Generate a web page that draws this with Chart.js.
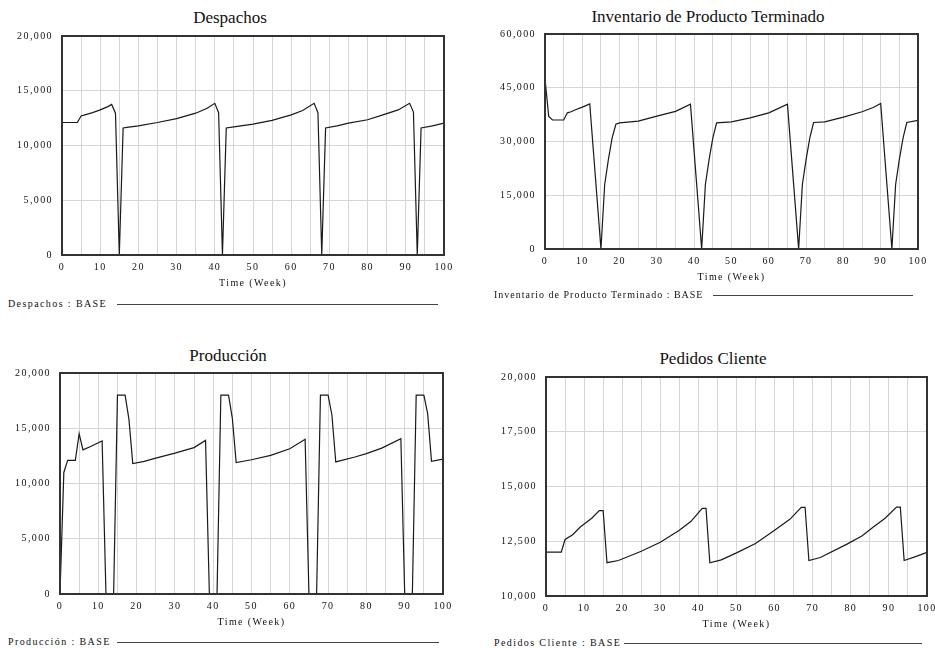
<!DOCTYPE html>
<html>
<head>
<meta charset="utf-8">
<title>Modelo BASE</title>
<script src="https://cdn.jsdelivr.net/npm/chart.js@4.4.0/dist/chart.umd.min.js"></script>
<style>
  html, body { margin: 0; padding: 0; background: #fff; overflow: hidden; width: 935px; height: 648px; }
  .plot { position: absolute; }
  .title { position: absolute; width: 320px; font-family: 'Liberation Serif', 'Times New Roman', serif; font-size: 17px; line-height: 20px; text-align: center; color: #111; white-space: nowrap; }
  .legend { position: absolute; font-family: 'Liberation Serif', 'Times New Roman', serif; font-size: 10px; line-height: 12px; letter-spacing: 1.4px; color: #111; white-space: nowrap; }
  .legend-line { position: absolute; height: 1px; background: #444; }
</style>
</head>
<body>

<div class="title" style="left:70px; top:8px;">Despachos</div>
<div class="title" style="left:548px; top:7px;">Inventario de Producto Terminado</div>
<div class="title" style="left:68px; top:346px;">Producción</div>
<div class="title" style="left:553px; top:349px;">Pedidos Cliente</div>

<div class="plot" style="left:2px; top:26px; width:462px; height:266px;"><canvas id="despachos"></canvas></div>
<div class="plot" style="left:485px; top:24px; width:453px; height:262px;"><canvas id="inventario"></canvas></div>
<div class="plot" style="left:0px; top:363px; width:463px; height:268px;"><canvas id="produccion"></canvas></div>
<div class="plot" style="left:486px; top:367px; width:461px; height:266px;"><canvas id="pedidos"></canvas></div>

<div class="legend" style="left:8px; top:298px;">Despachos : BASE</div>
<div class="legend-line" style="left:117px; top:304px; width:321px;"></div>
<div class="legend" style="left:494px; top:289px; letter-spacing:1px;">Inventario de Producto Terminado : BASE</div>
<div class="legend-line" style="left:713px; top:295px; width:200px;"></div>
<div class="legend" style="left:8px; top:636px;">Producción : BASE</div>
<div class="legend-line" style="left:117px; top:642px; width:322px;"></div>
<div class="legend" style="left:494px; top:637px;">Pedidos Cliente : BASE</div>
<div class="legend-line" style="left:624px; top:643px; width:298px;"></div>

<script>
// Despachos
const despachosT = [0,4,5,6,8,10,12,13,14,15,16,17,20,25,30,35,38,40,41,42,43,45,50,55,60,63,66,67,68,69,72,75,80,84,88,91,92,93,94,97,100];
const despachosV = [12100,12100,12700,12800,13000,13250,13550,13750,12950,0,11600,11650,11800,12100,12450,12950,13400,13850,13000,0,11600,11700,11950,12300,12800,13200,13850,13000,0,11600,11800,12050,12350,12800,13250,13850,13050,0,11600,11800,12050];

// Inventario de Producto Terminado
const inventarioT = [0,1,2,5,6,7,8,10,12,13,14,15,16,17,18,19,20,25,30,35,39,40,41,42,43,44,45,46,50,55,60,65,66,67,68,69,70,71,72,75,80,85,88,90,91,92,93,94,95,96,97,100];
const inventarioV = [47500,37000,36000,36000,38000,38300,38800,39600,40500,27000,13500,0,18000,25000,31000,34800,35200,35700,37100,38400,40400,26900,13500,0,18000,25000,31000,35200,35500,36600,38000,40400,26900,13500,0,18000,25000,31000,35300,35500,36800,38300,39500,40600,27000,13500,0,18000,25000,31000,35300,35900];

// Producción
const produccionT = [0,1,2,4,5,6,8,11,12,14,15,17,18,19,22,25,30,35,38,39,41,42,44,45,46,50,55,60,64,65,67,68,70,71,72,77,80,84,89,90,92,93,95,96,97,100];
const produccionV = [0,11000,12100,12100,14500,13050,13350,13850,0,0,18000,18000,15800,11800,12000,12300,12750,13250,13900,0,0,18000,18000,15900,11900,12150,12550,13150,14000,0,0,18000,18000,16200,11950,12400,12700,13200,14050,0,0,18000,18000,16300,12000,12200];

// Pedidos Cliente
const pedidosT = [0,4,5,7,9,12,14,15,16,19,25,30,35,38,41,42,43,46,50,55,60,64,67,68,69,72,79,83,86,89,92,93,94,97,100];
const pedidosV = [12000,12000,12580,12800,13150,13550,13900,13900,11520,11620,12040,12450,13000,13400,14000,14000,11520,11650,11970,12400,13000,13500,14050,14050,11620,11760,12370,12750,13160,13550,14060,14060,11620,11800,11990];

const tickFont = { family: "'Liberation Serif', 'Times New Roman', serif", size: 10 };

// dark frame around the plot area, spaced-out axis text
const frame = {
    id: 'frame',
    beforeDraw(chart) {
        chart.ctx.letterSpacing = '1.4px';
    },
    afterDraw(chart) {
        const a = chart.chartArea;
        const c = chart.ctx;
        c.save();
        c.strokeStyle = '#333';
        c.lineWidth = 2;
        c.strokeRect(a.left, a.top, a.right - a.left, a.bottom - a.top);
        c.restore();
    }
};

function makeChart(id, times, values, yMin, yMax, yStep) {
    const ctx = document.getElementById(id).getContext('2d');
    return new Chart(ctx, {
        type: 'line',
        data: {
            datasets: [{
                data: times.map((t, i) => ({ x: t, y: values[i] })),
                borderColor: '#1a1a1a',
                borderWidth: 1.2,
                pointRadius: 0,
                tension: 0,
                fill: false
            }]
        },
        options: {
            responsive: true,
            maintainAspectRatio: false,
            animation: false,
            layout: { padding: { left: 0, top: 10, right: 20, bottom: 0 } },
            plugins: {
                legend: { display: false },
                tooltip: { enabled: false }
            },
            scales: {
                x: {
                    type: 'linear',
                    min: 0,
                    max: 100,
                    grid: { color: '#d6d6d6', drawTicks: false },
                    border: { display: false },
                    ticks: {
                        stepSize: 5,
                        autoSkip: false,
                        maxRotation: 0,
                        padding: 6,
                        color: '#111',
                        font: tickFont,
                        callback: v => (v % 10 === 0 ? v : '')
                    },
                    title: {
                        display: true,
                        text: 'Time (Week)',
                        color: '#111',
                        font: tickFont,
                        padding: { top: 0, bottom: 3 }
                    },
                    afterFit: s => { s.height = 37; s.paddingLeft = 0; s.paddingRight = 0; }
                },
                y: {
                    min: yMin,
                    max: yMax,
                    grid: { color: '#d6d6d6', drawTicks: false },
                    border: { display: false },
                    ticks: {
                        stepSize: yStep,
                        padding: 9,
                        color: '#111',
                        font: tickFont,
                        callback: v => v.toLocaleString('en-US')
                    },
                    afterFit: s => { s.width = 60; s.paddingTop = 0; s.paddingBottom = 0; }
                }
            }
        },
        plugins: [frame]
    });
}

makeChart('despachos', despachosT, despachosV, 0, 20000, 5000);
makeChart('inventario', inventarioT, inventarioV, 0, 60000, 15000);
makeChart('produccion', produccionT, produccionV, 0, 20000, 5000);
makeChart('pedidos', pedidosT, pedidosV, 10000, 20000, 2500);
</script>
</body>
</html>
